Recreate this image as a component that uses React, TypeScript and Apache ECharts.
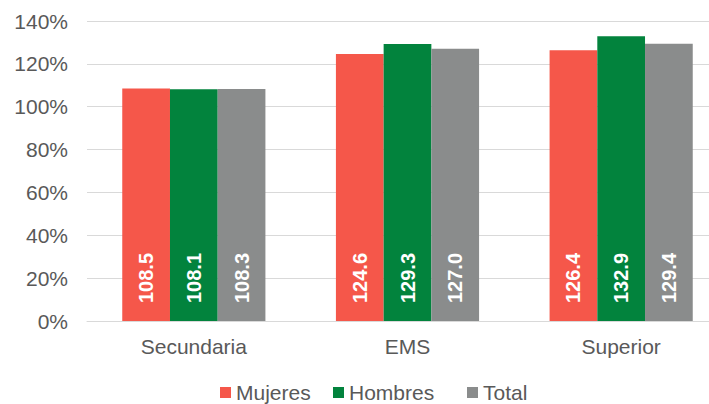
import React, { useEffect, useRef } from "react";
import * as echarts from "echarts";

const categories = ["Secundaria", "EMS", "Superior"];
const mujeres = [108.5, 124.6, 126.4];
const hombres = [108.1, 129.3, 132.9];
const total = [108.3, 127.0, 129.4];
const seriesNames = ["Mujeres", "Hombres", "Total"];
const yTicks = { min: 0, max: 140, interval: 20 };

const colors = ["#F5574A", "#02833D", "#8A8C8C"];
const legendLefts = [220, 333, 467];

export default function App() {
  const ref = useRef<HTMLDivElement>(null);
  useEffect(() => {
    if (!ref.current) return;
    const chart = echarts.init(ref.current, null, { renderer: "svg" });
    const font = "'Liberation Sans', Arial, sans-serif";
    const label = {
      show: true,
      position: "insideBottom",
      rotate: 90,
      align: "left",
      verticalAlign: "middle",
      distance: 18,
      color: "#ffffff",
      fontWeight: "bold",
      fontSize: 20,
      fontFamily: font,
      formatter: (p: any) => Number(p.value).toFixed(1),
    };
    const data = [mujeres, hombres, total];
    chart.setOption({
      animation: false,
      textStyle: { fontFamily: font },
      grid: { left: 87, right: 1, top: 21, bottom: 83, containLabel: false },
      legend: seriesNames.map((name, i) => ({
        data: [name],
        left: legendLefts[i],
        top: 382,
        padding: 0,
        itemWidth: 11,
        itemHeight: 11,
        icon: "rect",
        textStyle: { color: "#595959", fontSize: 21, lineHeight: 21, fontFamily: font },
      })),
      xAxis: {
        type: "category",
        data: categories,
        axisLine: { show: true, lineStyle: { color: "#D9D9D9", width: 1 } },
        axisTick: { show: false },
        axisLabel: { color: "#595959", fontSize: 21, margin: 15, fontFamily: font },
      },
      yAxis: {
        type: "value",
        min: yTicks.min,
        max: yTicks.max,
        interval: yTicks.interval,
        axisLine: { show: false },
        axisTick: { show: false },
        splitLine: { lineStyle: { color: "#D9D9D9", width: 1 } },
        axisLabel: {
          color: "#595959",
          fontSize: 21,
          margin: 19,
          fontFamily: font,
          formatter: "{value}%",
        },
      },
      series: seriesNames.map((name, i) => ({
        name,
        type: "bar",
        data: data[i],
        barGap: "0%",
        barCategoryGap: "33%",
        itemStyle: { color: colors[i] },
        label,
      })),
    });
    return () => chart.dispose();
  }, []);
  return (
    <div
      style={{
        position: "absolute",
        left: 0,
        top: 0,
        width: 709,
        height: 404,
        overflow: "hidden",
        background: "#fff",
      }}
    >
      <div ref={ref} style={{ width: 729, height: 404 }} />
    </div>
  );
}
